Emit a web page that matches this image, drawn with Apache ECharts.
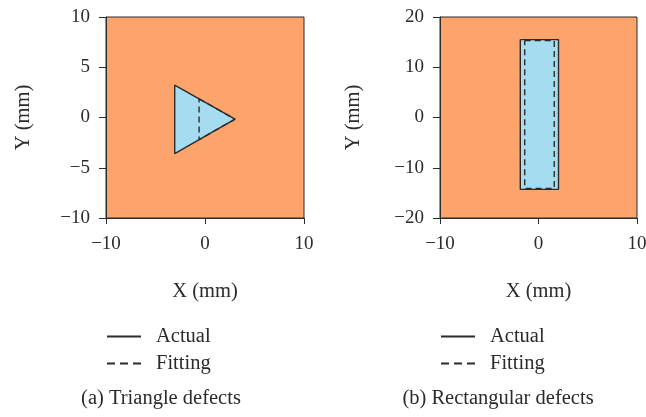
<!DOCTYPE html>
<html>
<head>
<meta charset="utf-8">
<script src="https://cdn.jsdelivr.net/npm/echarts@6/dist/echarts.min.js"></script>
<style>html,body{margin:0;padding:0;background:#fff}#c{width:646px;height:417px}</style>
</head>
<body>
<div id="c"></div>
<script>
// ---- data ----
const triActualX = [-3.06, -3.06, 3.03, -3.06];
const triActualY = [3.23, -3.6, -0.17, 3.23];
const triFitX = [-0.6, 3.03, -0.6, -0.6];
const triFitY = [1.86, -0.17, -2.21, 1.86];
const rectActualX = [-1.85, 2.03, 2.03, -1.85, -1.85];
const rectActualY = [15.5, 15.5, -14.3, -14.3, 15.5];
const rectFitX = [-1.4, 1.6, 1.6, -1.4, -1.4];
const rectFitY = [15.3, 15.3, -14.1, -14.1, 15.3];
const seriesNames = ['Actual', 'Fitting'];
const captions = ['(a) Triangle defects', '(b) Rectangular defects'];
const xTitle = 'X (mm)';
const yTitle = 'Y (mm)';
const xRange = [-10, 10], xStep = 10;
const yRangeA = [-10, 10], yStepA = 5;
const yRangeB = [-20, 20], yStepB = 10;

// ---- style ----
const FONT = '"Liberation Serif", "DejaVu Serif", serif';
const ORANGE = '#FCA46C';
const BLUE = '#A6DCEF';
const INK = '#2b2b2b';
const zip = (xs, ys) => xs.map((x, i) => [x, ys[i]]);
const fmt = v => String(v).replace('-', '\u2212');

function fillSeries(idx, xs, ys) {
  return {
    type: 'custom', xAxisIndex: idx, yAxisIndex: idx, silent: true, z: 2,
    data: [0],
    renderItem: (params, api) => ({
      type: 'polygon',
      shape: { points: xs.map((x, i) => api.coord([x, ys[i]])) },
      style: { fill: BLUE }
    })
  };
}
function lineSeries(idx, name, xs, ys, dashed) {
  return {
    type: 'line', name: name, xAxisIndex: idx, yAxisIndex: idx,
    data: zip(xs, ys), symbol: 'none', silent: true, z: dashed ? 4 : 3,
    lineStyle: { color: INK, width: 1.4, type: dashed ? [6, 4] : 'solid' },
    itemStyle: { color: INK }
  };
}
function xAx(idx) {
  return {
    type: 'value', gridIndex: idx, min: xRange[0], max: xRange[1], interval: xStep,
    name: xTitle, nameLocation: 'middle', nameGap: 63,
    nameTextStyle: { fontFamily: FONT, fontSize: 20.5, color: INK },
    axisLine: { show: true, onZero: false, lineStyle: { color: INK, width: 1 } },
    axisTick: { show: true, inside: false, length: 6, lineStyle: { color: INK } },
    axisLabel: { fontFamily: FONT, fontSize: 19, color: INK, margin: 17, formatter: fmt },
    splitLine: { show: false }
  };
}
function yAx(idx, range, step, gap) {
  return {
    type: 'value', gridIndex: idx, min: range[0], max: range[1], interval: step,
    name: yTitle, nameLocation: 'middle', nameGap: gap, nameRotate: 90,
    nameTextStyle: { fontFamily: FONT, fontSize: 20.5, color: INK },
    axisLine: { show: true, onZero: false, lineStyle: { color: INK, width: 1 } },
    axisTick: { show: true, inside: false, length: 7, lineStyle: { color: INK } },
    axisLabel: { fontFamily: FONT, fontSize: 19, color: INK, margin: 16, formatter: fmt },
    splitLine: { show: false }
  };
}
function legend(left) {
  return {
    left: left, top: 321, orient: 'vertical', itemGap: 6,
    itemWidth: 34, itemHeight: 14,
    data: [
      { name: seriesNames[0] },
      { name: seriesNames[1], lineStyle: { type: [8, 5], dashOffset: 0 } }
    ],
    itemStyle: { opacity: 0, borderWidth: 0 },
    textStyle: { fontFamily: FONT, fontSize: 20.5, color: INK, padding: [0, 0, 0, 10] },
    selectedMode: false
  };
}

const chart = echarts.init(document.getElementById('c'), null, { renderer: 'canvas' });
chart.setOption({
  animation: false,
  backgroundColor: '#fff',
  grid: [
    { left: 106, top: 17, width: 198, height: 201, outerBoundsMode: 'none', containLabel: false, show: true, backgroundColor: ORANGE, borderColor: INK, borderWidth: 1 },
    { left: 440, top: 17, width: 197, height: 201, outerBoundsMode: 'none', containLabel: false, show: true, backgroundColor: ORANGE, borderColor: INK, borderWidth: 1 }
  ],
  xAxis: [xAx(0), xAx(1)],
  yAxis: [yAx(0, yRangeA, yStepA, 72), yAx(1, yRangeB, yStepB, 76)],
  legend: [legend(101), legend(435)],
  graphic: [
    { type: 'text', x: 161, y: 399, style: { text: captions[0], font: '20.5px ' + FONT, fill: INK, textAlign: 'center', textVerticalAlign: 'middle' } },
    { type: 'text', x: 498, y: 399, style: { text: captions[1], font: '20.5px ' + FONT, fill: INK, textAlign: 'center', textVerticalAlign: 'middle' } }
  ],
  series: [
    fillSeries(0, triActualX, triActualY),
    lineSeries(0, seriesNames[0], triActualX, triActualY, false),
    lineSeries(0, seriesNames[1], triFitX, triFitY, true),
    fillSeries(1, rectActualX, rectActualY),
    lineSeries(1, seriesNames[0], rectActualX, rectActualY, false),
    lineSeries(1, seriesNames[1], rectFitX, rectFitY, true)
  ]
});
</script>
</body>
</html>
